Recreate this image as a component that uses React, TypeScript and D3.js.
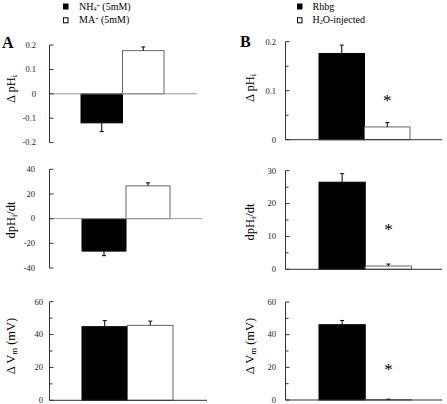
import React from "react";
import * as d3 from "d3";

// ---------- data ----------
const catsA = ["NH4", "MA"];
const catsB = ["Rhbg", "H2O"];

const aPHi = [-0.119, 0.177];
const aPHiErr = [0.036, 0.015];
const aDpH = [-26.3, 26.6];
const aDpHErr = [3.7, 2.4];
const aVm = [44.8, 45.6];
const aVmErr = [3.7, 2.6];

const bPHi = [0.176, 0.026];
const bPHiErr = [0.017, 0.009];
const bDpH = [26.5, 1.0];
const bDpHErr = [2.6, 0.6];
const bVm = [46.1, 0.2];
const bVmErr = [2.6, 0.3];

const aPHiTicks = [-0.2, -0.1, 0, 0.1, 0.2];
const aPHiLabels = ["-0.2", "-0.1", "0", "0.1", "0.2"];
const aDpHTicks = [-40, -20, 0, 20, 40];
const aVmTicks = [0, 20, 40, 60];
const aVmMinor = [10, 30, 50];
const bPHiTicks = [0, 0.1, 0.2];
const bPHiLabels = ["0", "0.1", "0.2"];
const bPHiMinor = [0.05, 0.15];
const bDpHTicks = [0, 10, 20, 30];
const bDpHMinor = [5, 15, 25];
const bVmTicks = [0, 20, 40, 60];
const bVmMinor = [10, 30, 50];

const fills = ["#000", "#fff"];
const FONT = "'Liberation Serif', 'Times New Roman', serif";

type PanelProps = {
  cats: string[];
  values: number[];
  errs: number[];
  domain: [number, number];
  yRange: [number, number];
  ticks: number[];
  labels?: string[];
  minor?: number[];
  axisX: number;
  lineEnd: number;
  barRange: [number, number];
  labelEnd: number;
  zeroGray?: boolean;
  star?: boolean;
  starY?: number;
};

function Panel(p: PanelProps) {
  const y = d3.scaleLinear().domain(p.domain).range(p.yRange);
  const x = d3.scaleBand<string>().domain(p.cats).range(p.barRange).padding(0);
  const y0 = y(0);
  return (
    <g>
      {p.values.map((v, i) => {
        const bx = x(p.cats[i])!;
        const bw = x.bandwidth();
        const top = Math.min(y(v), y0);
        const h = Math.abs(y(v) - y0);
        const cx = bx + bw / 2;
        const errEnd = v >= 0 ? y(v + p.errs[i]) : y(v - p.errs[i]);
        return (
          <g key={i}>
            <rect
              x={bx}
              y={top}
              width={bw}
              height={h}
              fill={fills[i]}
              stroke={i === 0 ? "#000" : "#666"}
              strokeWidth={1}
            />
            <line x1={cx} x2={cx} y1={y(v)} y2={errEnd} stroke="#000" strokeWidth={1} />
            <line x1={cx - 2} x2={cx + 2} y1={errEnd} y2={errEnd} stroke="#000" strokeWidth={1} />
          </g>
        );
      })}
      <line
        x1={p.axisX}
        x2={p.lineEnd}
        y1={y0}
        y2={y0}
        stroke={p.zeroGray ? "#999" : "#333"}
        strokeWidth={1}
      />
      <line
        x1={p.axisX}
        x2={p.axisX}
        y1={y(p.domain[0])}
        y2={y(p.domain[1])}
        stroke="#333"
        strokeWidth={1}
      />
      {p.ticks.map((t, i) => (
        <g key={"t" + i}>
          <line x1={p.axisX} x2={p.axisX + 4} y1={y(t)} y2={y(t)} stroke="#333" strokeWidth={1} />
          <text
            x={p.labelEnd}
            y={y(t)}
            dy="0.33em"
            textAnchor="end"
            fontSize={8.5}
            fontFamily={FONT}
            fill="#222"
          >
            {p.labels ? p.labels[i] : String(t)}
          </text>
        </g>
      ))}
      {(p.minor || []).map((t, i) => (
        <line key={"m" + i} x1={p.axisX} x2={p.axisX + 3} y1={y(t)} y2={y(t)} stroke="#333" strokeWidth={1} />
      ))}
      {p.star && (
        <text
          x={(x(p.cats[1])! + x.bandwidth() / 2)}
          y={p.starY}
          textAnchor="middle"
          fontSize={17}
          fontFamily={FONT}
          fill="#000"
        >
          *
        </text>
      )}
    </g>
  );
}

function YLabel({ x, y, kind }: { x: number; y: number; kind: string }) {
  const sub = { baselineShift: "-25%", fontSize: "70%" } as any;
  let content: React.ReactNode = null;
  if (kind === "pHi") {
    content = (
      <>
        <tspan>Δ pH</tspan>
        <tspan style={sub}>i</tspan>
      </>
    );
  } else if (kind === "dpH") {
    content = (
      <>
        <tspan>dpH</tspan>
        <tspan style={sub}>i</tspan>
        <tspan>/dt</tspan>
      </>
    );
  } else {
    content = (
      <>
        <tspan>Δ V</tspan>
        <tspan style={sub}>m</tspan>
        <tspan> (mV)</tspan>
      </>
    );
  }
  return (
    <text
      transform={`translate(${x},${y}) rotate(-90)`}
      textAnchor="middle"
      fontSize={12.5}
      fontFamily={FONT}
      fill="#000"
    >
      {content}
    </text>
  );
}

function Legend({ x, tx, items }: { x: number; tx: number; items: React.ReactNode[] }) {
  const ys = [9.5, 23.3];
  return (
    <g>
      {items.map((it, i) => (
        <g key={i}>
          <rect x={x} y={ys[i] - 5.5} width={4.5} height={5} fill={fills[i]} stroke="#000" strokeWidth={1} />
          <text x={tx} y={ys[i]} fontSize={10} fontFamily={FONT} fill="#000">
            {it}
          </text>
        </g>
      ))}
    </g>
  );
}

export default function App() {
  const sup = { baselineShift: "35%", fontSize: "60%" } as any;
  const sub = { baselineShift: "-15%", fontSize: "60%" } as any;
  const legA = [
    <>
      <tspan>NH</tspan>
      <tspan style={sub}>4</tspan>
      <tspan style={sup}>+</tspan>
      <tspan> (5mM)</tspan>
    </>,
    <>
      <tspan>MA</tspan>
      <tspan style={sup}>+</tspan>
      <tspan> (5mM)</tspan>
    </>,
  ];
  const legB = [
    <>Rhbg</>,
    <>
      <tspan>H</tspan>
      <tspan style={sub}>2</tspan>
      <tspan>O-injected</tspan>
    </>,
  ];
  return (
    <svg
      width={447}
      height={404}
      style={{ position: "absolute", left: 0, top: 0, background: "#fff" }}
    >
      <rect width={447} height={404} fill="#fff" />
      <Legend x={63.5} tx={79} items={legA} />
      <Legend x={297.5} tx={312.5} items={legB} />
      <text x={2} y={48} fontSize={16} fontWeight="bold" fontFamily={FONT}>A</text>
      <text x={240} y={47} fontSize={16} fontWeight="bold" fontFamily={FONT}>B</text>

      <YLabel x={15} y={89} kind="pHi" />
      <YLabel x={15} y={220} kind="dpH" />
      <YLabel x={15} y={346} kind="Vm" />
      <YLabel x={254} y={88} kind="pHi" />
      <YLabel x={254} y={222} kind="dpH" />
      <YLabel x={254} y={346} kind="Vm" />

      <Panel
        cats={catsA} values={aPHi} errs={aPHiErr}
        domain={[-0.2, 0.2]} yRange={[142.6, 45]}
        ticks={aPHiTicks} labels={aPHiLabels}
        axisX={49.5} lineEnd={197} barRange={[81, 164]} labelEnd={36} zeroGray
      />
      <Panel
        cats={catsA} values={aDpH} errs={aDpHErr}
        domain={[-40, 40]} yRange={[268, 169.3]}
        ticks={aDpHTicks}
        axisX={49.5} lineEnd={202} barRange={[82, 170]} labelEnd={35} zeroGray
      />
      <Panel
        cats={catsA} values={aVm} errs={aVmErr}
        domain={[0, 60]} yRange={[400.3, 301.7]}
        ticks={aVmTicks} minor={aVmMinor}
        axisX={49.5} lineEnd={207} barRange={[82, 173]} labelEnd={43}
      />
      <Panel
        cats={catsB} values={bPHi} errs={bPHiErr}
        domain={[0, 0.2]} yRange={[139.7, 41.7]}
        ticks={bPHiTicks} labels={bPHiLabels} minor={bPHiMinor}
        axisX={285.5} lineEnd={442} barRange={[319, 410]} labelEnd={276}
        star starY={106}
      />
      <Panel
        cats={catsB} values={bDpH} errs={bDpHErr}
        domain={[0, 30]} yRange={[269.3, 170.7]}
        ticks={bDpHTicks} minor={bDpHMinor}
        axisX={285.5} lineEnd={442} barRange={[319, 411.5]} labelEnd={276}
        star starY={235}
      />
      <Panel
        cats={catsB} values={bVm} errs={bVmErr}
        domain={[0, 60]} yRange={[400, 302]}
        ticks={bVmTicks} minor={bVmMinor}
        axisX={285.5} lineEnd={442} barRange={[319, 411.5]} labelEnd={276}
        star starY={375}
      />
    </svg>
  );
}
